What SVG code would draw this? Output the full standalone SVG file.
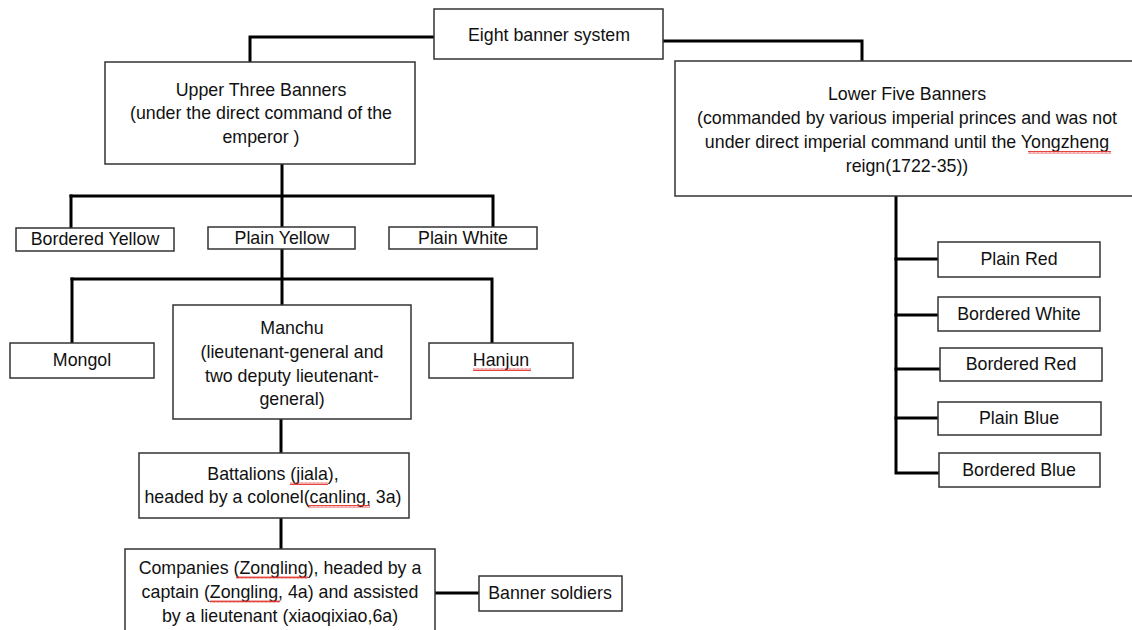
<svg xmlns="http://www.w3.org/2000/svg" width="1132" height="630" viewBox="0 0 1132 630">
  <defs>
    <style>
      .box { fill: #ffffff; stroke: #333333; stroke-width: 1.5; }
      .lbl { font-family: "Liberation Sans", Arial, sans-serif; font-size: 17.8px; fill: #111111; text-anchor: middle; }
      .link { fill: none; stroke: #000000; stroke-width: 3; stroke-linecap: square; }
      .squiggle { fill: url(#wave); }
    </style>
    <!-- red wavy spell-check underline -->
    <pattern id="wave" width="4" height="3" patternUnits="userSpaceOnUse">
      <path d="M0,2.5 L1,0.5 L2,2.5 L3,0.5 L4,2.5" fill="none" stroke="#e0302a" stroke-width="0.9"/>
    </pattern>
  </defs>
  <rect width="1132" height="630" fill="#ffffff"/>

  <g id="connectors">
    <path class="link" d="M435,37 H250 V62"/>
    <path class="link" d="M663,41 H862 V62"/>
    <path class="link" d="M282,164 V227"/>
    <path class="link" d="M71,196 H493 V227"/>
    <path class="link" d="M71,196 V228"/>
    <path class="link" d="M282,249 V305"/>
    <path class="link" d="M72,279 H492 V343"/>
    <path class="link" d="M72,279 V343"/>
    <path class="link" d="M281,419 V453"/>
    <path class="link" d="M281,518 V549"/>
    <path class="link" d="M435,593 H479"/>
    <path class="link" d="M896,196 V473 H938"/>
    <path class="link" d="M896,259 H938"/>
    <path class="link" d="M896,315 H938"/>
    <path class="link" d="M896,369 H940"/>
    <path class="link" d="M896,418 H938"/>
  </g>

  <g id="eight-banner">
    <rect class="box" x="434" y="9" width="229" height="50"/>
    <text class="lbl" x="549" y="41">Eight banner system</text>
  </g>

  <g id="upper-three">
    <rect class="box" x="105" y="62" width="310" height="102"/>
    <text class="lbl" x="261" y="96">Upper Three Banners</text>
    <text class="lbl" x="261" y="119">(under the direct command of the</text>
    <text class="lbl" x="261" y="143">emperor )</text>
  </g>

  <g id="lower-five">
    <rect class="box" x="675" y="61" width="465" height="135"/>
    <text class="lbl" x="907" y="100">Lower Five Banners</text>
    <text class="lbl" x="907" y="124">(commanded by various imperial princes and was not</text>
    <text class="lbl" x="907" y="148">under direct imperial command until the Yongzheng</text>
    <text class="lbl" x="907" y="172">reign(1722-35))</text>
  </g>

  <g id="bordered-yellow">
    <rect class="box" x="16" y="228" width="158" height="23"/>
    <text class="lbl" x="95" y="245">Bordered Yellow</text>
  </g>
  <g id="plain-yellow">
    <rect class="box" x="208" y="227" width="147" height="22"/>
    <text class="lbl" x="282" y="244">Plain Yellow</text>
  </g>
  <g id="plain-white">
    <rect class="box" x="389" y="227" width="148" height="22"/>
    <text class="lbl" x="463" y="244">Plain White</text>
  </g>

  <g id="mongol">
    <rect class="box" x="10" y="343" width="144" height="35"/>
    <text class="lbl" x="82" y="366">Mongol</text>
  </g>
  <g id="manchu">
    <rect class="box" x="173" y="305" width="238" height="114"/>
    <text class="lbl" x="292" y="334">Manchu</text>
    <text class="lbl" x="292" y="358">(lieutenant-general and</text>
    <text class="lbl" x="292" y="382">two deputy lieutenant-</text>
    <text class="lbl" x="292" y="405">general)</text>
  </g>
  <g id="hanjun">
    <rect class="box" x="429" y="343" width="144" height="35"/>
    <text class="lbl" x="501" y="366">Hanjun</text>
  </g>

  <g id="battalions">
    <rect class="box" x="139" y="453" width="270" height="65"/>
    <text class="lbl" x="273" y="480">Battalions (jiala),</text>
    <text class="lbl" x="273" y="503">headed by a colonel(canling, 3a)</text>
  </g>

  <g id="companies">
    <rect class="box" x="125" y="549" width="310" height="95"/>
    <text class="lbl" x="280" y="574">Companies (Zongling), headed by a</text>
    <text class="lbl" x="280" y="598">captain (Zongling, 4a) and assisted</text>
    <text class="lbl" x="280" y="622">by a lieutenant (xiaoqixiao,6a)</text>
  </g>

  <g id="banner-soldiers">
    <rect class="box" x="479" y="576" width="143" height="35"/>
    <text class="lbl" x="550" y="599">Banner soldiers</text>
  </g>

  <g id="plain-red">
    <rect class="box" x="938" y="242" width="162" height="35"/>
    <text class="lbl" x="1019" y="265">Plain Red</text>
  </g>
  <g id="bordered-white">
    <rect class="box" x="938" y="297" width="162" height="34"/>
    <text class="lbl" x="1019" y="320">Bordered White</text>
  </g>
  <g id="bordered-red">
    <rect class="box" x="940" y="348" width="162" height="33"/>
    <text class="lbl" x="1021" y="370">Bordered Red</text>
  </g>
  <g id="plain-blue">
    <rect class="box" x="938" y="402" width="163" height="33"/>
    <text class="lbl" x="1019" y="424">Plain Blue</text>
  </g>
  <g id="bordered-blue">
    <rect class="box" x="939" y="453" width="161" height="34"/>
    <text class="lbl" x="1019" y="476">Bordered Blue</text>
  </g>

  <g id="spelling-marks">
    <rect class="squiggle" x="1028" y="151" width="83" height="3"/>
    <rect class="squiggle" x="473" y="368" width="58" height="3"/>
    <rect class="squiggle" x="290" y="482" width="38" height="3"/>
    <rect class="squiggle" x="308" y="505" width="62" height="3"/>
    <rect class="squiggle" x="236" y="576" width="72" height="3"/>
    <rect class="squiggle" x="210" y="600" width="70" height="3"/>
  </g>
</svg>
